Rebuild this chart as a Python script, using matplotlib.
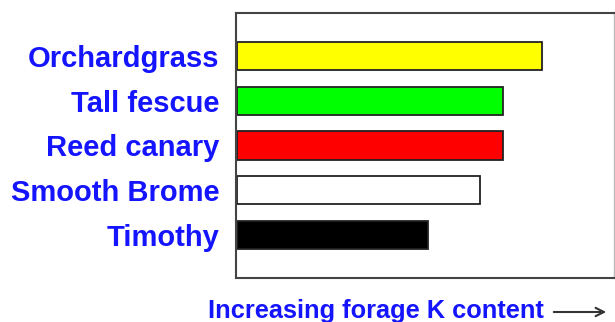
import matplotlib
matplotlib.use("Agg")
import matplotlib.pyplot as plt

categories = ["Orchardgrass", "Tall fescue", "Reed canary", "Smooth Brome", "Timothy"]
values = [80.7, 70.4, 70.4, 64.3, 50.5]
colors = ["#ffff00", "#00ff00", "#ff0000", "#ffffff", "#000000"]
xlabel = "Increasing forage K content"

W, H = 615, 322
fig = plt.figure(figsize=(W/100, H/100), dpi=100)
ax = fig.add_axes([236/W, 1-278/H, (614-236)/W, (278-13)/H])

ypos = list(range(len(categories)))
ax.barh(ypos, values, height=0.63, color=colors, edgecolor="#222222", linewidth=1.3, left=0.3)
ax.set_xlim(0, 100)
ax.set_ylim(4.97, -0.97)
ax.set_yticks(ypos)
ax.set_yticklabels(categories, fontfamily="Liberation Sans", fontweight="bold",
                   fontsize=21, color="#1414ff")
ax.tick_params(axis="y", length=0, pad=12)
ax.set_xticks([])
for s in ["left", "top", "bottom"]:
    ax.spines[s].set_color("#444444")
    ax.spines[s].set_linewidth(1.5)
ax.spines["right"].set_color("#bbbbbb")
ax.spines["right"].set_linewidth(1.0)

fig.text(208/W, 1-318/H, xlabel, fontfamily="Liberation Sans", fontweight="bold",
         fontsize=18.3, color="#1414ff", ha="left", va="baseline")
fig.patches.append(matplotlib.patches.FancyArrowPatch(
    (551/W, 1-312/H), (609/W, 1-312/H), transform=fig.transFigure,
    arrowstyle="->,head_length=6,head_width=3", color="#333333", linewidth=1.5))

fig.savefig("out.png", dpi=100)
